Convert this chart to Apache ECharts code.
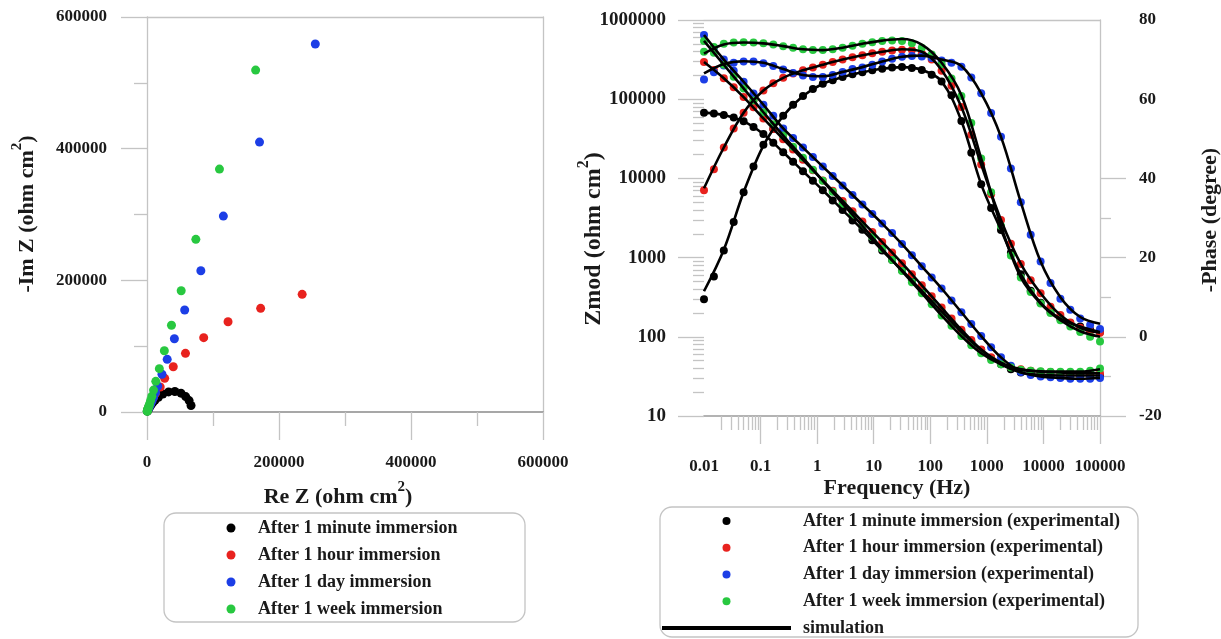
<!DOCTYPE html>
<html><head><meta charset="utf-8">
<script src="https://cdn.jsdelivr.net/npm/echarts@6/dist/echarts.min.js"></script>
<style>html,body{margin:0;padding:0;background:#fff}#c{width:1221px;height:639px}</style>
</head><body><div id="c"></div>
<script>
// ---------- Nyquist (Re Z, -Im Z) ----------
const nyqBlack = [[66700,9800],[63800,17300],[58600,23400],[51500,28600],[42200,31200],[32700,30500],[24000,27200],[17200,22400],[12000,17700],[8400,13800],[6000,10700],[4300,8300],[3200,6200],[2300,4600],[1600,3400],[1100,2500],[750,1800],[500,1300]];
const nyqRed = [[235100,178700],[172200,157500],[122800,137100],[85900,112900],[58300,89100],[39800,68800],[26800,51100],[20000,37900],[13000,28500],[9250,21300],[6640,15900],[4760,11800],[3430,8800],[2460,6550],[1780,4880],[1300,3600]];
const nyqBlue = [[255000,559000],[170500,410000],[115700,297600],[81600,214600],[57100,154900],[41500,111300],[30600,80000],[22700,57400],[16300,39400],[12900,29700],[9960,22400],[7680,16900],[5830,12800],[4330,9780],[3190,7480],[2350,5710],[1750,4340]];
const nyqGreen = [[164600,519400],[109800,369000],[74000,262300],[51800,184200],[37100,131700],[26300,93100],[18700,65800],[13300,46600],[9900,33300],[7340,24000],[5440,17400],[3900,12300],[2820,8900],[2030,6450],[1400,4580],[960,3330],[690,2410],[480,1700],[330,1200]];

// ---------- Bode: experimental ----------
const freq = [0.01,0.01496,0.02239,0.0335,0.05012,0.07499,0.1122,0.1679,0.2512,0.3758,0.5623,0.8414,1.259,1.884,2.818,4.217,6.31,9.441,14.13,21.13,31.62,47.32,70.79,105.9,158.5,237.1,354.8,530.9,794.3,1189,1778,2661,3981,5957,8913,13340,19950,29850,44670,66830,100000];
const zmodBlack = [67600,66100,63100,58900,52500,44700,36300,28200,21400,16200,12300,9330,7080,5250,3980,2950,2240,1660,1230,933,692,513,380,282,209,155,115,87,68,54,45,39,35.5,33.9,33.1,32.4,32.4,32.4,32.4,32.4,32.4];
const phaseBlack = [9.5,15.2,21.8,29.0,36.5,43.0,48.5,52.5,55.8,58.6,60.8,62.6,63.9,64.8,65.6,66.3,66.8,67.3,67.7,68.0,68.1,67.9,67.4,66.2,64.5,61.0,54.5,46.5,38.5,32.5,27.0,21.2,15.8,11.6,8.6,6.3,4.6,3.5,2.6,1.8,1.2];
const zmodRed = [295100,233300,184100,141900,106400,79400,57100,42200,31300,23200,17200,12700,9440,7000,5190,3850,2850,2110,1570,1160,851,617,447,324,234,170,123,91,69,55,47,41.7,38.9,37.2,36.3,35.9,35.5,35.1,34.7,34.7,34.7];
const phaseRed = [37.0,42.3,47.8,52.6,56.6,59.8,62.2,64.0,65.4,66.5,67.3,68.0,68.7,69.4,70.0,70.6,71.1,71.6,72.0,72.3,72.5,72.4,71.6,70.0,67.2,63.4,58.0,51.0,43.5,36.0,29.5,23.5,18.4,14.3,11.0,7.6,5.5,3.6,2.3,1.4,1.0];
const zmodBlue = [646000,447000,316000,229000,166000,118000,85100,61700,42700,32400,24500,18600,14100,10700,8130,6170,4680,3550,2690,2040,1480,1070,776,562,407,288,204,145,102,74,55,43,36,33,31.6,30.9,30.2,29.5,29.5,29.5,30.2];
const phaseBlue = [65.0,66.8,68.5,69.2,69.5,69.5,69.1,68.4,67.5,66.6,66.0,65.6,65.6,66.1,66.9,67.6,68.0,68.7,69.5,70.2,70.7,70.9,70.8,70.4,69.8,69.2,68.2,65.5,61.5,56.5,50.5,42.5,34.0,25.8,19.0,13.6,9.6,6.8,4.6,3.0,2.0];
const zmodGreen = [544500,384600,272300,191400,136800,96600,68400,48400,34700,25100,18200,12900,9330,6760,4790,3470,2510,1820,1290,933,676,490,355,257,186,138,102,78,62,51,45,41,38.5,37.2,36.7,36.3,36.3,36.3,36.3,37.2,39.8];
const phaseGreen = [72.0,73.2,74.0,74.3,74.4,74.3,74.1,73.8,73.4,73.0,72.6,72.4,72.4,72.6,73.0,73.5,74.0,74.4,74.7,74.8,74.7,74.1,73.0,71.3,68.8,65.2,60.8,54.0,45.0,36.5,28.0,20.5,15.0,11.3,8.4,6.0,4.2,2.6,1.2,0.0,-1.2];

// ---------- Bode: simulation ----------
const simFreq = [0.01,0.02239,0.05012,0.1122,0.2512,0.5623,1.259,2.818,6.31,14.13,31.62,70.79,158.5,354.8,794.3,1778,3981,8913,19950,44670,100000];
const simZBlack = [67600,63100,52500,36300,21400,12300,7080,3980,2240,1230,692,380,209,115,68,45,35.5,33.1,32.4,32.4,32.4];
const simPBlack = [11.5,22.0,36.5,48.3,55.8,60.8,63.9,65.6,66.8,67.7,68.1,67.4,64.5,54.5,38.5,27.0,15.8,8.6,4.6,2.6,1.2];
const simZRed = [295100,184100,106400,57100,31300,17200,9440,5190,2850,1570,851,447,234,123,69,47,38.9,36.3,35.5,34.7,34.7];
const simPRed = [37.5,47.8,56.6,62.2,65.4,67.3,68.7,70.0,71.1,72.0,72.6,72.0,67.4,58.0,43.5,29.5,18.4,11.0,5.5,2.3,1.0];
const simZBlue = [646000,316000,166000,85100,42700,24500,14100,8130,4680,2690,1480,776,407,204,102,55,36,31.6,30.2,29.5,30.2];
const simPBlue = [66.5,68.9,69.6,69.2,67.6,66.1,65.8,66.9,68.1,69.5,70.7,71.0,70.0,68.4,61.5,50.5,34.0,19.0,10.0,5.0,3.3];
const simZGreen = [544500,272300,136800,68400,34700,18200,9330,4790,2510,1290,676,355,186,102,62,45,38.5,36.7,36.3,36.3,39.0];
const simPGreen = [71.5,73.8,74.3,74.1,73.4,72.6,72.4,73.0,74.0,74.8,75.2,73.8,69.2,61.0,45.0,28.0,15.0,8.4,4.2,1.4,0.0];

// ---------- labels ----------
const leftNames = ['After 1 minute immersion','After 1 hour immersion','After 1 day immersion','After 1 week immersion'];
const rightNames = ['After 1 minute immersion (experimental)','After 1 hour immersion (experimental)','After 1 day immersion (experimental)','After 1 week immersion (experimental)'];
const simName = 'simulation';
const nyqTickLabels = ['0','200000','400000','600000'];
const freqTickLabels = ['0.01','0.1','1','10','100','1000','10000','100000'];
const freqMajorTicks = [0.1,1,10,100,1000,10000,100000];
const zTickLabels = ['10','100','1000','10000','100000','1000000'];
const phaseMajorTicks = [-20,0,20,40];
const phaseMinorTicks = [-10,10,30];

const freqMinorTicks = [];
[0.01,0.1,1,10,100,1000,10000].forEach(d => { for (let m = 2; m <= 9; m++) freqMinorTicks.push(+(m*d).toPrecision(3)); });
const zMinorTicks = [];
[10,100,1000,10000,100000].forEach(d => { for (let m = 2; m <= 9; m++) zMinorTicks.push(m*d); });

const colors = ['#000000','#e8221e','#1c3ee6','#28c840'];
const FONT = 'Liberation Serif';
const light = '#c4c4c4';
const labelStyle = {fontFamily: FONT, fontWeight: 'bold', fontSize: 17, color: '#1a1a1a'};
const zip = (xs, ys) => xs.map((x, i) => [x, ys[i]]);
const nyqFmt = v => nyqTickLabels[Math.round(v / 200000)];

const nyq = [nyqBlack, nyqRed, nyqBlue, nyqGreen];
const expZ = [zmodBlack, zmodRed, zmodBlue, zmodGreen];
const expP = [phaseBlack, phaseRed, phaseBlue, phaseGreen];
const simZ = [simZBlack, simZRed, simZBlue, simZGreen];
const simP = [simPBlack, simPRed, simPBlue, simPGreen];

const series = [];
nyq.forEach((d, i) => series.push({
  name: leftNames[i], type: 'scatter', xAxisIndex: 0, yAxisIndex: 0, data: d,
  symbol: 'circle', symbolSize: 9, clip: false, itemStyle: {color: colors[i], opacity: 1}
}));
expZ.forEach((d, i) => {
  series.push({name: rightNames[i], type: 'scatter', xAxisIndex: 2, yAxisIndex: 2, data: zip(freq, d),
    symbol: 'circle', symbolSize: 8, clip: false, itemStyle: {color: colors[i], opacity: 1}});
  series.push({name: rightNames[i], type: 'scatter', xAxisIndex: 2, yAxisIndex: 4, data: zip(freq, expP[i]),
    symbol: 'circle', symbolSize: 8, clip: false, itemStyle: {color: colors[i], opacity: 1}});
});
simZ.forEach((d, i) => {
  series.push({name: simName, type: 'line', xAxisIndex: 2, yAxisIndex: 2, data: zip(simFreq, d),
    symbol: 'none', smooth: 0.35, clip: false, lineStyle: {color: '#000', width: 2.6}, itemStyle: {color: '#000'}});
  series.push({name: simName, type: 'line', xAxisIndex: 2, yAxisIndex: 4, data: zip(simFreq, simP[i]),
    symbol: 'none', smooth: 0.35, clip: false, lineStyle: {color: '#000', width: 2.6}, itemStyle: {color: '#000'}});
});

const titleRich = (main, tail, fs) => ({
  text: '{a|' + main + '}{s|2}{a|' + tail + '}',
  rich: {
    a: {fontFamily: FONT, fontWeight: 'bold', fontSize: fs, lineHeight: Math.round(fs * 1.55), fill: '#1a1a1a'},
    s: {fontFamily: FONT, fontWeight: 'bold', fontSize: Math.round(fs * 0.68), lineHeight: Math.round(fs * 1.55), verticalAlign: 'top', fill: '#1a1a1a'}
  },
  align: 'center', verticalAlign: 'middle'
});
const plainTitle = (t) => ({text: t, fontFamily: FONT, fontWeight: 'bold', fontSize: 22, fill: '#1a1a1a', align: 'center', verticalAlign: 'middle'});

const legendText = {fontFamily: FONT, fontWeight: 'bold', fontSize: 18, color: '#1a1a1a'};

const option = {
  animation: false,
  backgroundColor: '#ffffff',
  grid: [
    {left: 147, top: 17, width: 396, height: 395},
    {left: 704, top: 20, width: 396, height: 396}
  ],
  xAxis: [
    {gridIndex: 0, type: 'value', min: 0, max: 600000, interval: 200000, position: 'bottom',
      axisLine: {show: true, onZero: false, lineStyle: {color: '#8a8a8a', width: 1.6}},
      axisTick: {show: true, length: 28, lineStyle: {color: light, width: 1.3}},
      minorTick: {show: true, splitNumber: 2, length: 14, lineStyle: {color: light, width: 1.3}},
      splitLine: {show: false}, minorSplitLine: {show: false},
      axisLabel: Object.assign({margin: 42, formatter: nyqFmt}, labelStyle)},
    {gridIndex: 0, type: 'value', min: 0, max: 600000, position: 'top',
      axisLine: {show: true, onZero: false, lineStyle: {color: light, width: 1.3}},
      axisTick: {show: false}, axisLabel: {show: false}, splitLine: {show: false}},
    {gridIndex: 1, type: 'log', logBase: 10, min: 0.01, max: 100000, position: 'bottom',
      axisLine: {show: true, onZero: false, lineStyle: {color: '#9a9a9a', width: 1.6}},
      axisTick: {show: true, length: 28, customValues: freqMajorTicks, lineStyle: {color: light, width: 1.3}},
      splitLine: {show: false},
      axisLabel: Object.assign({margin: 42, formatter: v => freqTickLabels[Math.round(Math.log10(v)) + 2]}, labelStyle)},
    {gridIndex: 1, type: 'log', logBase: 10, min: 0.01, max: 100000, position: 'bottom',
      axisLine: {show: false, onZero: false},
      axisTick: {show: true, length: 14, customValues: freqMinorTicks, lineStyle: {color: light, width: 1.3}},
      axisLabel: {show: false}, splitLine: {show: false}},
    {gridIndex: 1, type: 'log', logBase: 10, min: 0.01, max: 100000, position: 'top',
      axisLine: {show: true, onZero: false, lineStyle: {color: light, width: 1.3}},
      axisTick: {show: false}, axisLabel: {show: false}, splitLine: {show: false}}
  ],
  yAxis: [
    {gridIndex: 0, type: 'value', min: 0, max: 600000, interval: 200000, position: 'left',
      axisLine: {show: true, onZero: false, lineStyle: {color: light, width: 1.3}},
      axisTick: {show: true, length: 26, lineStyle: {color: light, width: 1.3}},
      minorTick: {show: true, splitNumber: 2, length: 13, lineStyle: {color: light, width: 1.3}},
      splitLine: {show: false}, minorSplitLine: {show: false},
      axisLabel: Object.assign({margin: 40, formatter: nyqFmt}, labelStyle)},
    {gridIndex: 0, type: 'value', min: 0, max: 600000, position: 'right',
      axisLine: {show: true, onZero: false, lineStyle: {color: light, width: 1.3}},
      axisTick: {show: false}, axisLabel: {show: false}, splitLine: {show: false}},
    {gridIndex: 1, type: 'log', logBase: 10, min: 10, max: 1000000, position: 'left',
      axisLine: {show: false, onZero: false},
      axisTick: {show: true, length: 26, lineStyle: {color: light, width: 1.3}},
      splitLine: {show: false},
      axisLabel: Object.assign({margin: 38, formatter: v => zTickLabels[Math.round(Math.log10(v)) - 1]}, labelStyle, {fontSize: 19})},
    {gridIndex: 1, type: 'log', logBase: 10, min: 10, max: 1000000, position: 'left',
      axisLine: {show: false, onZero: false},
      axisTick: {show: true, length: 11, customValues: zMinorTicks, lineStyle: {color: light, width: 1.3}},
      axisLabel: {show: false}, splitLine: {show: false}},
    {gridIndex: 1, type: 'value', min: -20, max: 80, interval: 20, position: 'right',
      axisLine: {show: true, onZero: false, lineStyle: {color: light, width: 1.3}},
      axisTick: {show: true, length: 26, customValues: phaseMajorTicks, lineStyle: {color: light, width: 1.3}},
      splitLine: {show: false},
      axisLabel: Object.assign({margin: 39}, labelStyle)},
    {gridIndex: 1, type: 'value', min: -20, max: 80, position: 'right',
      axisLine: {show: false, onZero: false},
      axisTick: {show: true, length: 11, customValues: phaseMinorTicks, lineStyle: {color: light, width: 1.3}},
      axisLabel: {show: false}, splitLine: {show: false}}
  ],
  legend: [
    {data: leftNames.map(n => ({name: n, icon: 'circle'})), orient: 'vertical', left: 226.5, top: 519, height: 120,
      itemWidth: 44, itemHeight: 9, itemGap: 9, padding: 0, selectedMode: false, symbolKeepAspect: true,
      textStyle: legendText},
    {data: rightNames.map(n => ({name: n, icon: 'circle'})).concat([{name: simName, icon: 'path://M0 0L129 0L129 4L0 4Z'}]),
      orient: 'vertical', left: 662, top: 512, height: 160, itemWidth: 129, itemHeight: 8, itemGap: 8.75, padding: 0,
      selectedMode: false, symbolKeepAspect: true,
      textStyle: Object.assign({padding: [0, 0, 0, 7]}, legendText)}
  ],
  graphic: [
    {type: 'rect', silent: true, shape: {x: 164, y: 513, width: 361, height: 109, r: 12},
      style: {fill: 'none', stroke: '#c4c4c4', lineWidth: 1.3}},
    {type: 'rect', silent: true, shape: {x: 660, y: 507, width: 478, height: 130, r: 12},
      style: {fill: 'none', stroke: '#c4c4c4', lineWidth: 1.3}},
    {type: 'text', silent: true, x: 27, y: 214, rotation: Math.PI / 2, style: titleRich('-Im Z (ohm cm', ')', 22)},
    {type: 'text', silent: true, x: 338, y: 497, style: titleRich('Re Z (ohm cm', ')', 22)},
    {type: 'text', silent: true, x: 594, y: 239, rotation: Math.PI / 2, style: titleRich('Zmod (ohm cm', ')', 24)},
    {type: 'text', silent: true, x: 897, y: 488, style: plainTitle('Frequency (Hz)')},
    {type: 'text', silent: true, x: 1210, y: 220, rotation: Math.PI / 2, style: plainTitle('-Phase (degree)')}
  ],
  series: series
};

const chart = echarts.init(document.getElementById('c'), null, {renderer: 'canvas'});
chart.setOption(option);
</script></body></html>
